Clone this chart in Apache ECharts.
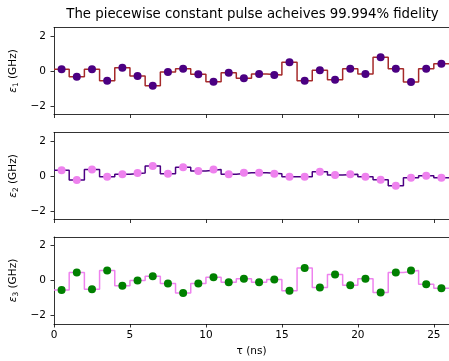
<!DOCTYPE html>
<html>
<head>
<meta charset="utf-8">
<script src="https://cdn.jsdelivr.net/npm/echarts@6/dist/echarts.min.js"></script>
<style>html,body{margin:0;padding:0;background:#fff;}#c{width:449px;height:361px;}</style>
</head>
<body>
<div id="c"></div>
<script>
// Data
const titleText = 'The piecewise constant pulse acheives 99.994% fidelity';
const tau = [0.5,1.5,2.5,3.5,4.5,5.5,6.5,7.5,8.5,9.5,10.5,11.5,12.5,13.5,14.5,15.5,16.5,17.5,18.5,19.5,20.5,21.5,22.5,23.5,24.5,25.5];
const eps1 = [0.10,-0.33,0.10,-0.56,0.19,-0.29,-0.85,-0.06,0.13,-0.19,-0.62,-0.10,-0.42,-0.17,-0.23,0.50,-0.56,0.04,-0.50,0.13,-0.17,0.79,0.13,-0.63,0.13,0.42];
const eps2 = [0.33,-0.23,0.37,-0.04,0.10,0.17,0.58,0.13,0.50,0.29,0.37,0.10,0.19,0.19,0.13,-0.04,-0.04,0.25,0.06,0.10,-0.04,-0.21,-0.56,-0.10,0.02,-0.10];
const eps3 = [-0.55,0.46,-0.50,0.57,-0.30,0.00,0.25,-0.17,-0.72,-0.17,0.19,-0.10,0.10,-0.10,0.06,-0.59,0.72,-0.40,0.34,-0.27,0.10,-0.69,0.46,0.57,-0.21,-0.44];
const segWidth = 1; // each constant segment spans 1 ns
const xTicks = [0,5,10,15,20,25];
const yTicks = [-2,0,2];
const ySubs = ['1','2','3'];
const lineColors = ['#a52a2a','#4b0082','#ee82ee'];
const markerColors = ['#4b0082','#ee82ee','#008000'];

const series = [eps1, eps2, eps3];
const font = 'DejaVu Sans';
const fmt = v => String(v).replace('-', '\u2212');

const tops = [27.5, 132.5, 237];
const H = 87;
const grids = tops.map(t => ({left: 54, top: t, width: 397.5, height: H, show: false}));

const xAxes = tops.map((t, i) => ({
  type: 'value', gridIndex: i, min: 0, max: 26,
  axisLine: {show: true, onZero: false, lineStyle: {color: '#000', width: 0.8}},
  axisTick: {show: true, length: 3.5, customValues: xTicks, lineStyle: {color: '#000', width: 0.8}},
  axisLabel: {show: i === 2, customValues: xTicks, margin: 6, color: '#000', fontFamily: font, fontSize: 10.5, formatter: fmt},
  splitLine: {show: false},
  name: i === 2 ? 'τ (ns)' : '', nameLocation: 'middle', nameGap: 22,
  nameTextStyle: {color: '#000', fontFamily: font, fontSize: 10.5}
}));
const xAxesTop = tops.map((t, i) => ({
  type: 'value', gridIndex: i, min: 0, max: 26, position: 'top',
  axisLine: {show: true, onZero: false, lineStyle: {color: '#000', width: 0.8}},
  axisTick: {show: false}, axisLabel: {show: false}, splitLine: {show: false}
}));

const yAxes = tops.map((t, i) => ({
  type: 'value', gridIndex: i, min: -2.5, max: 2.5,
  axisLine: {show: true, onZero: false, lineStyle: {color: '#000', width: 0.8}},
  axisTick: {show: true, length: 3.5, customValues: yTicks, lineStyle: {color: '#000', width: 0.8}},
  axisLabel: {customValues: yTicks, margin: 8, color: '#000', fontFamily: font, fontSize: 10.5, formatter: fmt},
  splitLine: {show: false},
  name: '{e|ε}{s|' + ySubs[i] + '}{n| (GHz)}', nameLocation: 'middle', nameGap: 27,
  nameTextStyle: {color: '#000', fontFamily: font, fontSize: 10.5,
    rich: {
      e: {fontFamily: font, fontStyle: 'italic', fontSize: 10.5, color: '#000'},
      s: {fontFamily: font, fontSize: 7.5, color: '#000', verticalAlign: 'bottom', padding: [4, 0, 0, 0]},
      n: {fontFamily: font, fontSize: 10.5, color: '#000'}
    }}
}));

const s = [];
series.forEach((vals, i) => {
  const stepData = tau.map((t, k) => [t - segWidth / 2, vals[k]]);
  stepData.push([tau[tau.length - 1] + segWidth / 2, vals[vals.length - 1]]);
  s.push({
    type: 'line', xAxisIndex: i, yAxisIndex: i, step: 'end', data: stepData,
    showSymbol: false, symbol: 'none', lineStyle: {color: lineColors[i], width: 1.5},
    animation: false, z: 2
  });
  s.push({
    type: 'scatter', xAxisIndex: i, yAxisIndex: i, data: tau.map((t, k) => [t, vals[k]]),
    symbol: 'circle', symbolSize: 8, itemStyle: {color: markerColors[i], opacity: 1},
    animation: false, z: 3
  });
});

const chart = echarts.init(document.getElementById('c'), null, {renderer: 'canvas'});
chart.setOption({
  animation: false,
  backgroundColor: '#fff',
  graphic: [{type: 'text', x: 252.5, y: 15, silent: true,
    style: {text: titleText, x: 0, y: 0, align: 'center', verticalAlign: 'middle',
      font: '13.3px "DejaVu Sans"', fill: '#000'}}],
  grid: grids,
  xAxis: xAxes.concat(xAxesTop),
  yAxis: yAxes,
  series: s
});
</script>
</body>
</html>
